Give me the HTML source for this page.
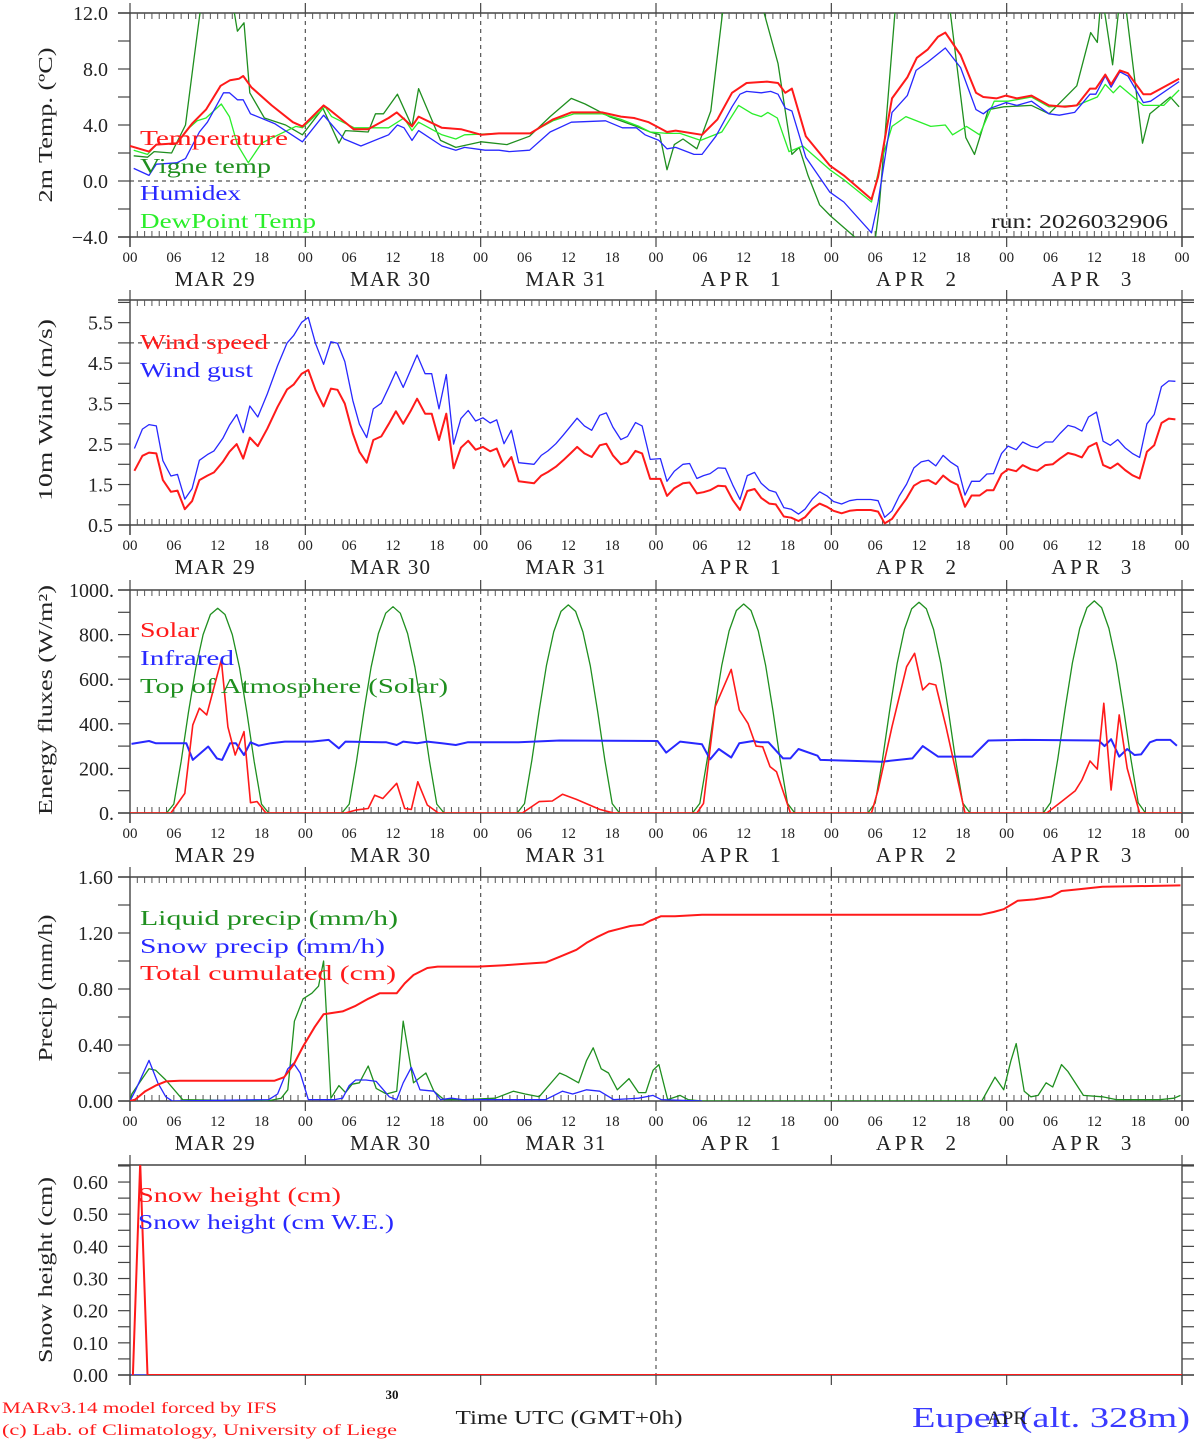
<!DOCTYPE html>
<html><head><meta charset="utf-8"><style>
html,body{margin:0;padding:0;background:#fff}
svg{display:block}
text{font-family:"Liberation Serif","DejaVu Serif",serif}
</style></head><body>
<svg id="chart" width="1194" height="1440" viewBox="0 0 1194 1440" xmlns="http://www.w3.org/2000/svg"></svg>
<script>
// ---------- Panel 1: temperature ----------
const tempHours=[0,2.6,3.6,6.4,8.5,10.4,12.4,13.7,14.9,15.5,16.6,19.4,22.3,23.6,26.5,27.3,30.6,32.6,35.4,36.5,38.6,39.5,42.7,45.3,48.1,50.5,54.8,57.9,60.4,64.6,67.2,69,71,73.5,74.7,78.3,80.4,82.4,84.4,87.2,88.7,89.7,90.6,92.5,95.8,97.7,101.5,102.4,104.3,106.4,107.7,109.2,110.6,111.6,113.7,115.8,116.8,118.6,119.9,121.4,123.4,125.8,128,129.6,131.4,132.2,133.5,134.3,135.5,136.6,138.7,139.7,143.6];
const tempValues=[2.5,2.1,2.6,2.7,4.1,5.1,6.8,7.2,7.3,7.5,6.7,5.4,4.2,3.9,5.4,5.1,3.7,3.7,4.5,4.9,3.9,4.6,3.8,3.7,3.3,3.4,3.4,4.4,4.9,4.9,4.6,4.5,4.2,3.5,3.6,3.3,4.4,6.3,7.0,7.1,7.0,6.3,6.6,3.2,1.1,0.4,-1.3,0.3,5.9,7.4,8.8,9.4,10.3,10.6,9.0,6.3,6.0,5.9,6.1,5.9,6.1,5.4,5.3,5.4,6.6,6.6,7.6,6.9,7.9,7.7,6.2,6.2,7.3];
const vigneHours=[0.5,2.4,3.3,5.7,7.6,8.8,9.7,12,14.2,14.7,15.6,16.4,18.4,21.3,23.6,26.4,28.6,29.5,32.6,33.6,34.7,36.6,38.6,39.5,42.5,44.6,48.1,51.6,54.7,57.5,60.4,62.3,65.6,69.3,71.2,72.5,73.5,74.5,75.7,77.6,79.5,81.1,84,86.8,88.7,90.6,91.6,92.8,94.4,95.9,99.2,101.8,102.5,104.7,108,112.3,114.4,115.6,117.5,119.6,123.4,125.8,129.6,131.5,132.4,133,134.5,135.5,136.3,138.6,139.6,142.4,143.6];
const vigneValues=[1.8,1.7,2.1,2.0,4.0,8.9,12.5,15,12.3,10.7,11.3,6.3,4.5,4.0,3.3,5.2,2.7,3.6,3.5,4.8,4.8,6.2,3.9,6.6,2.9,2.4,2.8,2.6,3.2,4.6,5.9,5.5,4.6,3.9,3.5,3.3,0.8,2.6,3.0,2.3,5.0,12,17,12,8.4,1.9,2.4,0.4,-1.7,-2.5,-4.0,-5.0,-2.2,12,18,12,3.1,1.9,5.1,5.3,5.4,4.8,6.8,10.6,9.9,13.5,8.3,13,12.5,2.7,4.8,6.0,5.3];
const humidexHours=[0.5,2.6,3.6,6.4,7.6,9.5,10.6,12.8,13.6,14.7,15.5,16.5,19.8,23.6,26.5,29.3,31.6,35.4,36.6,37.5,38.6,39.5,42.7,44.6,45.8,48.6,50.5,51.9,54.7,57.5,60.4,65.1,67.4,69.3,70.5,72.4,73.5,74.7,77.2,78.3,80.2,82.4,83.5,84.4,86.4,87.7,88.7,89.7,90.6,92.5,95.8,97.7,101.5,102.4,104.3,106.4,107.6,109.2,111.6,113.7,115.8,116.8,117.8,119.9,121.4,123.4,125.8,127.2,129.3,131.4,132.2,133.5,134.3,135.5,136.6,138.7,139.7,143.6];
const humidexValues=[0.9,0.4,1.2,1.3,1.6,3.5,4.2,6.3,6.3,5.8,5.8,4.8,4.1,2.8,4.7,3.0,2.5,3.3,4.0,3.8,2.9,3.6,2.5,2.2,2.4,2.2,2.2,2.1,2.2,3.5,4.2,4.3,3.8,3.8,3.3,2.9,2.3,2.4,1.9,1.9,3.2,5.3,6.2,6.4,6.3,6.4,6.2,5.2,5.0,1.7,-0.8,-1.5,-3.7,-1.5,4.9,6.1,7.9,8.5,9.5,8.1,5.1,4.8,5.2,5.6,5.4,5.7,4.8,4.7,4.9,6.2,6.2,7.5,6.7,7.8,7.5,5.6,5.7,7.1];
const dewHours=[0.5,2.4,3.6,6.4,8.1,9.2,10.4,12.5,13.6,14.7,16.2,18.0,20.3,22.7,23.6,26.7,27.6,30.7,32.6,35.4,37.5,38.6,39.5,42.7,44.6,45.8,50.5,54.7,57.9,60.8,64.6,67.2,69.7,71.2,73.5,75.3,78.1,81,83.3,85.2,86.4,87.3,88.6,90.2,92.1,95.8,97.7,101.5,102.6,104.3,106.2,109.6,111.6,112.6,114.5,116.3,118.3,120.2,123.4,125.8,129.6,132.4,133.5,134.6,135.5,138.7,141.5,143.6];
const dewValues=[2.2,1.9,2.6,2.7,3.8,4.3,4.5,5.5,4.6,2.6,1.3,2.7,3.3,3.9,3.8,5.3,4.6,3.8,3.8,3.8,4.5,3.6,4.2,3.3,3.0,3.3,3.4,3.4,4.3,4.8,4.8,4.4,3.9,3.5,3.4,3.4,2.9,3.5,5.4,4.8,4.6,4.9,4.5,2.1,2.5,0.8,0.1,-1.5,1.0,3.9,4.6,3.9,4.0,3.3,3.9,3.3,5.7,5.7,6.0,5.3,5.4,6.0,6.9,6.3,6.8,5.4,5.4,6.5];
// ---------- Panel 2: wind ----------
const windHours=[0.6,1.7,2.6,3.6,4.5,5.6,6.5,7.5,8.5,9.5,10.6,11.5,12.7,13.6,14.6,15.5,16.4,17.5,18.8,20.2,21.5,22.4,23.5,24.4,25.4,26.5,27.5,28.4,29.4,30.5,31.4,32.4,33.3,34.4,35.4,36.4,37.4,38.4,39.3,40.4,41.3,42.3,43.3,44.3,45.3,46.3,47.3,48.3,49.3,50.2,51.2,52.2,53.2,55.3,56.3,57.2,58.3,59.3,60.3,61.2,62.2,63.2,64.3,65.2,66.1,67.2,68.1,69.2,70.1,71.2,72.6,73.5,74.5,75.7,76.6,77.6,78.5,79.4,80.5,81.5,82.5,83.5,84.5,85.5,86.4,87.5,88.4,89.5,90.5,91.5,92.4,93.4,94.4,95.4,96.3,97.4,98.5,99.5,101.4,102.4,103.3,104.3,105.3,106.3,107.3,108.3,109.3,110.3,111.3,112.3,113.3,114.3,115.2,116.3,117.3,118.2,119.3,120.2,121.3,122.2,123.3,124.2,125.3,126.3,127.3,128.4,129.3,130.3,131.2,132.3,133.2,134.2,135.2,136.2,137.2,138.2,139.2,140.2,141.2,142.2,143.1];
const windSpeed=[1.84,2.21,2.29,2.27,1.61,1.32,1.35,0.89,1.09,1.61,1.72,1.80,2.06,2.31,2.50,2.14,2.66,2.45,2.88,3.42,3.85,3.97,4.24,4.33,3.83,3.43,3.87,3.84,3.50,2.76,2.31,2.04,2.60,2.69,2.99,3.31,3.0,3.31,3.62,3.25,3.25,2.60,3.25,1.90,2.41,2.58,2.36,2.43,2.32,2.39,1.94,2.18,1.58,1.53,1.72,1.81,1.94,2.10,2.27,2.43,2.27,2.18,2.47,2.51,2.22,2.0,2.06,2.33,2.27,1.64,1.64,1.22,1.41,1.53,1.55,1.28,1.31,1.36,1.47,1.46,1.12,0.87,1.34,1.39,1.17,1.03,1.01,0.71,0.68,0.60,0.69,0.90,1.03,0.95,0.85,0.79,0.85,0.87,0.87,0.83,0.54,0.65,0.91,1.16,1.47,1.58,1.61,1.51,1.72,1.58,1.49,0.95,1.23,1.23,1.36,1.36,1.76,1.88,1.83,1.98,1.88,1.84,1.98,2.0,2.14,2.28,2.24,2.17,2.43,2.53,1.98,1.90,2.02,1.86,1.73,1.65,2.31,2.47,3.02,3.13,3.11];
const windGust=[2.39,2.87,2.98,2.95,2.09,1.71,1.75,1.14,1.40,2.10,2.24,2.33,2.64,2.96,3.23,2.78,3.44,3.17,3.74,4.44,5.0,5.18,5.51,5.63,4.98,4.47,5.03,4.99,4.54,3.58,2.99,2.66,3.37,3.51,3.89,4.29,3.90,4.32,4.70,4.24,4.24,3.37,4.22,2.50,3.13,3.33,3.07,3.15,3.02,3.10,2.51,2.84,2.04,2.0,2.22,2.33,2.51,2.72,2.94,3.14,2.95,2.84,3.21,3.27,2.92,2.61,2.69,3.03,2.95,2.12,2.14,1.58,1.83,2.0,2.02,1.65,1.72,1.77,1.91,1.90,1.49,1.13,1.72,1.80,1.53,1.36,1.31,0.93,0.89,0.77,0.89,1.14,1.32,1.22,1.08,1.02,1.10,1.13,1.13,1.10,0.69,0.85,1.22,1.51,1.91,2.06,2.10,1.96,2.22,2.06,1.94,1.24,1.58,1.58,1.76,1.77,2.27,2.45,2.36,2.55,2.45,2.41,2.55,2.55,2.76,2.96,2.92,2.82,3.17,3.29,2.57,2.47,2.61,2.41,2.27,2.17,3.0,3.23,3.92,4.06,4.05];
// ---------- Panel 3: energy ----------
const toaValues=[0,0,0,0,0,0,40,230,450,650,800,890,918,890,800,650,450,230,40,0,0,0,0,0,
0,0,0,0,0,0,40,232,453,654,805,896,925,896,805,654,453,232,40,0,0,0,0,0,
0,0,0,0,0,0,42,235,457,660,812,904,933,904,812,660,457,235,42,0,0,0,0,0,
0,0,0,0,0,0,43,237,460,663,816,908,937,908,816,663,460,237,43,0,0,0,0,0,
0,0,0,0,0,0,45,240,464,669,823,916,945,916,823,669,464,240,45,0,0,0,0,0,
0,0,0,0,0,0,46,242,467,673,828,921,951,921,828,673,467,242,46,0,0,0,0,0,0];
const solarHours=[0,5.6,7.5,8.6,9.5,10.5,11.4,12.5,13.4,14.4,15.6,16.5,17.4,18.6,29.5,30.9,32.6,33.5,34.6,36.5,37.6,38.5,39.4,40.7,42.2,53.7,56,57.8,59.2,61.1,64.3,66.2,77.6,78.5,80.1,82.3,83.4,84.6,85.7,86.6,87.6,88.5,90.4,101.5,102.4,104.3,106.3,107.4,108.5,109.4,110.3,111.7,113.1,114.3,125.5,127.5,129.4,130.3,131.4,132.4,133.3,134.3,135.4,136.5,138.2,144];
const solarValues=[0,0,88,395,470,440,552,686,386,260,365,46,51,0,0,13,20,80,65,133,20,16,140,36,0,0,51,54,84,61,16,0,0,43,477,644,462,402,300,297,208,185,0,0,103,387,656,716,552,581,574,387,178,0,0,51,100,148,233,197,492,103,440,200,0,0];
const irHours=[0.2,2.6,3.5,7.7,8.6,10.7,11.9,12.6,13.7,14.5,15.6,16.5,17.6,19.3,21.2,24.9,27.2,28.6,29.5,35.1,36.5,37.4,39.3,40.7,42.7,44.6,46.2,53.2,58.8,72.2,73.4,75.3,78.3,79.4,80.6,82.3,83.4,85.3,86.3,87.4,89.4,90.4,91.5,94.1,94.5,102.9,107.1,108.5,110.6,115.3,117.5,122.4,132.6,133.4,134.3,135.4,136.5,137.5,138.4,139.6,140.5,142.4,143.3];
const irValues=[310,323,313,313,238,298,245,238,313,313,260,317,302,313,320,320,328,290,320,317,305,320,313,320,313,305,317,317,325,323,271,320,308,241,287,249,313,323,317,317,245,245,287,257,238,230,245,300,253,253,325,328,325,300,331,253,287,260,263,317,328,328,302];
// ---------- Panel 4: precip ----------
const liqHours=[0,0.25,2.6,3.5,4.9,7.2,18.8,20.7,21.6,22.5,23.7,24.9,25.8,26.5,27.5,28.6,29.5,30.4,31.4,32.6,33.7,35.1,36.5,37.4,38.8,40.5,41.6,43,45.8,50,52.5,54.1,56,58.8,59.7,61.4,62.5,63.4,64.5,65.5,66.7,68.3,69.6,70.6,71.6,72.4,73.6,75.3,76.4,78.3,116.6,118.4,119.6,120.6,121.3,122.4,123.3,124.3,125.4,126.3,127.5,128.4,130.5,133.1,135,141,142.9,143.8];
const liqValues=[0,0.05,0.23,0.22,0.15,0.01,0,0.02,0.08,0.57,0.73,0.77,0.82,1.0,0.02,0.11,0.06,0.12,0.13,0.25,0.09,0.05,0.07,0.57,0.13,0.2,0.07,0.01,0.01,0.02,0.07,0.05,0.03,0.2,0.18,0.13,0.29,0.38,0.23,0.2,0.08,0.16,0.06,0.06,0.22,0.26,0.01,0.04,0.01,0,0,0.17,0.08,0.29,0.41,0.07,0.03,0.04,0.13,0.10,0.26,0.21,0.04,0.03,0.01,0.01,0.02,0.04];
const snowPrHours=[0,0.7,2.6,3.8,4.9,5.8,19,20.2,21.6,22.4,23.3,24.4,26,28,29.1,30,30.9,32.3,33.7,35.5,36.5,37.4,38.5,39.7,41.6,42.5,44,45.5,56.9,59.2,60.6,62.5,64.3,66.2,69.6,71.6,72.7,78.3];
const snowPrValues=[0,0.07,0.29,0.13,0.03,0,0.01,0.05,0.23,0.27,0.2,0.01,0.01,0.01,0.02,0.11,0.15,0.15,0.14,0.03,0.01,0.13,0.24,0.08,0.07,0.01,0.02,0.01,0.01,0.07,0.05,0.08,0.07,0.01,0.02,0.04,0.01,0];
const cumHours=[0,0.7,2.1,3.5,4.9,6.8,19.8,21.1,22.4,23.7,25.3,26.5,29.1,30.9,32.6,34.2,36.5,37.6,38.8,40.7,42.1,47.6,51.3,54.1,56.9,58.8,61.1,62.5,63.9,65.5,67,68.5,70.2,71.3,72.7,74.6,78.3,116.4,118.2,119.6,121.5,123.8,126.1,127.5,129.4,133.1,143.8];
const cumValues=[0,0.01,0.07,0.11,0.14,0.145,0.145,0.17,0.26,0.39,0.53,0.62,0.64,0.68,0.73,0.77,0.77,0.84,0.90,0.95,0.96,0.96,0.97,0.98,0.99,1.03,1.08,1.13,1.17,1.21,1.23,1.25,1.26,1.29,1.32,1.32,1.33,1.33,1.35,1.37,1.43,1.44,1.46,1.50,1.51,1.53,1.54];
// ---------- Panel 5: snow height ----------
const snowHHours=[0.4,1.4,2.4,144];
const snowHValues=[0,0.66,0,0];
const snowWEHours=[0,144];
const snowWEValues=[0,0];
// ---------- axis labels ----------
const hourLabels=["00","06","12","18"];
const dayLabels=["MAR 29","MAR 30","MAR 31","APR\u00a0\u00a01","APR\u00a0\u00a02","APR\u00a0\u00a03"];

const NS="http://www.w3.org/2000/svg";
const svg=document.getElementById('chart');
const X0=130,X1=1182;
function xS(h){return X0+h*(X1-X0)/144;}
function mk(tag,attrs,parent){const e=document.createElementNS(NS,tag);for(const k in attrs)e.setAttribute(k,attrs[k]);(parent||svg).appendChild(e);return e;}
function txt(str,x,y,size,color,anchor,parent){const t=mk('text',{x:x,y:y,'font-size':size,fill:color,'text-anchor':anchor||'start'},parent);t.textContent=str;return t;}

const panels=[
 {name:'temperature',top:13,bot:237,min:-4,max:12,labels:[-4,0,4,8,12],fmt:v=>(v<0?'\u2212':'')+Math.abs(v).toFixed(1),minor:2,dash:[0],title:'2m Temp. (\u00baC)',tcy:125,tlen:155,labX:108},
 {name:'wind',top:300,bot:525,min:0.5,max:6.06,labels:[0.5,1.5,2.5,3.5,4.5,5.5],fmt:v=>v.toFixed(1),minor:0.5,dash:[5.0],title:'10m Wind (m/s)',tcy:410,tlen:182,labX:113},
 {name:'energy',top:590,bot:813,min:0,max:1000,labels:[0,200,400,600,800,1000],fmt:v=>v+'.',minor:100,dash:[],title:'Energy fluxes (W/m\u00b2)',tcy:700,tlen:230,labX:114},
 {name:'precip',top:877,bot:1101,min:0,max:1.6,labels:[0,0.4,0.8,1.2,1.6],fmt:v=>v.toFixed(2),minor:0.2,dash:[],title:'Precip (mm/h)',tcy:988,tlen:147,labX:113},
 {name:'snow',top:1165,bot:1375,min:0,max:0.653,labels:[0,0.1,0.2,0.3,0.4,0.5,0.6],fmt:v=>v.toFixed(2),minor:0.05,dash:[],title:'Snow height (cm)',tcy:1270,tlen:186,labX:108}
];

panels.forEach((p,pi)=>{
 const g=mk('g',{});
 
 
 const yS=v=>p.bot-(v-p.min)*(p.bot-p.top)/(p.max-p.min);
 p.yS=yS;
 const cp=mk('clipPath',{id:'clip'+pi},g);mk('rect',{x:X0,y:p.top,width:X1-X0,height:p.bot-p.top},cp);
 const dayLines=pi===4?[72]:[24,48,72,96,120];
 dayLines.forEach(h=>{const l=mk('line',{x1:xS(h),x2:xS(h),y1:p.top,y2:p.bot,stroke:'#555','stroke-width':1.2,'stroke-dasharray':'4,4'},g);
  });
 p.dash.forEach(v=>{const l=mk('line',{x1:X0,x2:X1,y1:yS(v),y2:yS(v),stroke:'#555','stroke-width':1.2,'stroke-dasharray':'4,4'},g);
  });
 mk('line',{x1:X0-12,x2:X1+12,y1:p.top,y2:p.top,stroke:'#444','stroke-width':1.4},g);
 mk('line',{x1:X0-12,x2:X1+12,y1:p.bot,y2:p.bot,stroke:'#444','stroke-width':1.4},g);
 mk('line',{x1:X0,x2:X0,y1:p.top,y2:p.bot+10,stroke:'#444','stroke-width':1.4},g);
 mk('line',{x1:X1,x2:X1,y1:p.top,y2:p.bot+10,stroke:'#444','stroke-width':1.4},g);
 if(pi<4){for(let h=1;h<144;h++){if(h%24===0)continue;
  mk('line',{x1:xS(h),x2:xS(h),y1:p.top,y2:p.top+6,stroke:'#555','stroke-width':1},g);
  mk('line',{x1:xS(h),x2:xS(h),y1:p.bot,y2:p.bot-6,stroke:'#555','stroke-width':1},g);}}
 for(let d=0;d<=6;d++){mk('line',{x1:xS(d*24),x2:xS(d*24),y1:p.bot,y2:p.bot+10,stroke:'#444','stroke-width':1.2},g);
  mk('line',{x1:xS(d*24),x2:xS(d*24),y1:p.top,y2:p.top-10,stroke:'#444','stroke-width':1.2},g);}
 for(let v=p.min;v<=p.max+1e-9;v+=p.minor){const y=yS(v);
  mk('line',{x1:X0-12,x2:X0,y1:y,y2:y,stroke:'#444','stroke-width':1.2},g);
  mk('line',{x1:X1,x2:X1+12,y1:y,y2:y,stroke:'#444','stroke-width':1.2},g);}
 p.labels.forEach(v=>{const t=txt(p.fmt(v),p.labX,yS(v)+7,20,'#222','end',g);
  });
 const tt=mk('text',{x:0,y:0,'font-size':20,fill:'#222','text-anchor':'middle',transform:`translate(52,${p.tcy}) rotate(-90)`,textLength:p.tlen,lengthAdjust:'spacingAndGlyphs'},g);
 tt.textContent=p.title;
 
 if(pi<4){for(let h=0;h<=144;h+=6){const t=txt(hourLabels[(h/6)%4],xS(h),p.bot+25,15,'#222','middle',g);
   }
  dayLabels.forEach((d,i)=>{const t=mk('text',{x:xS(i*24+12)-3,y:p.bot+49,'font-size':21,fill:'#222','text-anchor':'middle',textLength:80,lengthAdjust:'spacing'},g);
   t.textContent=d;});}
});

function series(pi,hours,vals,color,w,name){
 const p=panels[pi];
 const pts=hours.map((h,i)=>xS(h).toFixed(1)+','+p.yS(vals[i]).toFixed(1)).join(' ');
 const l=mk('polyline',{points:pts,fill:'none',stroke:color,'stroke-width':w,'stroke-linejoin':'round','clip-path':'url(#clip'+pi+')'});
 
 
}
function legend(str,x,y,color,len){const t=mk('text',{x:x,y:y,'font-size':21,fill:color,textLength:len,lengthAdjust:'spacingAndGlyphs'});t.textContent=str;
 }

const RED='#ff1a1a',DG='#1f8f1f',LG='#2aee2a',BL='#2828ff';
const hoursH=toaValues.map((v,i)=>i);
series(0,vigneHours,vigneValues,DG,1.3,'vigne-temp-line');
series(0,dewHours,dewValues,LG,1.3,'dewpoint-line');
series(0,humidexHours,humidexValues,BL,1.3,'humidex-line');
series(0,tempHours,tempValues,RED,2,'temperature-line');
legend('Temperature',140,145,RED,148);
legend('Vigne temp',140,173,DG,131);
legend('Humidex',140,200,BL,101);
legend('DewPoint Temp',140,228,LG,176);
{const t=mk('text',{x:1168,y:228,'font-size':20,fill:'#222','text-anchor':'end',textLength:177,lengthAdjust:'spacingAndGlyphs'});t.textContent='run: 2026032906';
 }
series(1,windHours,windGust,BL,1.3,'wind-gust-line');
series(1,windHours,windSpeed,RED,2,'wind-speed-line');
legend('Wind speed',140,349,RED,128);
legend('Wind gust',140,377,BL,113);
series(2,hoursH,toaValues,DG,1.3,'toa-solar-line');
series(2,irHours,irValues,BL,2,'infrared-line');
series(2,solarHours,solarValues,RED,1.6,'solar-line');
legend('Solar',140,637,RED,59);
legend('Infrared',140,665,BL,94);
legend('Top of Atmosphere (Solar)',140,693,DG,308);
series(3,liqHours,liqValues,DG,1.3,'liquid-precip-line');
series(3,snowPrHours,snowPrValues,BL,1.3,'snow-precip-line');
series(3,cumHours,cumValues,RED,2,'total-cumulated-line');
legend('Liquid precip (mm/h)',140,925,DG,258);
legend('Snow precip (mm/h)',140,953,BL,245);
legend('Total cumulated (cm)',140,980,RED,256);
series(4,snowWEHours,snowWEValues,BL,1.3,'snow-we-line');
series(4,snowHHours,snowHValues,RED,2,'snow-height-line');
legend('Snow height (cm)',138,1202,RED,203);
legend('Snow height (cm W.E.)',138,1229,BL,256);

{let t=mk('text',{x:2,y:1413,'font-size':16,fill:'#ff1a1a',textLength:275,lengthAdjust:'spacingAndGlyphs'});t.textContent='MARv3.14 model forced by IFS';
 
 t=mk('text',{x:2,y:1435,'font-size':16,fill:'#ff1a1a',textLength:395,lengthAdjust:'spacingAndGlyphs'});t.textContent='(c) Lab. of Climatology, University of Liege';
 
 t=mk('text',{x:392,y:1399,'font-size':13,fill:'#111','text-anchor':'middle','font-family':'Liberation Sans, sans-serif','font-weight':'bold'});t.textContent='30';
 
 t=mk('text',{x:569,y:1424,'font-size':20,fill:'#222','text-anchor':'middle',textLength:227,lengthAdjust:'spacingAndGlyphs'});t.textContent='Time UTC (GMT+0h)';
 
 t=mk('text',{x:912,y:1427,'font-size':28,fill:'#3a3aff',textLength:278,lengthAdjust:'spacingAndGlyphs'});t.textContent='Eupen (alt. 328m)';
 
 t=mk('text',{x:1007,y:1424,'font-size':19,fill:'#222','text-anchor':'middle',textLength:40,lengthAdjust:'spacingAndGlyphs'});t.textContent='APR';
 }
</script>
</body></html>
